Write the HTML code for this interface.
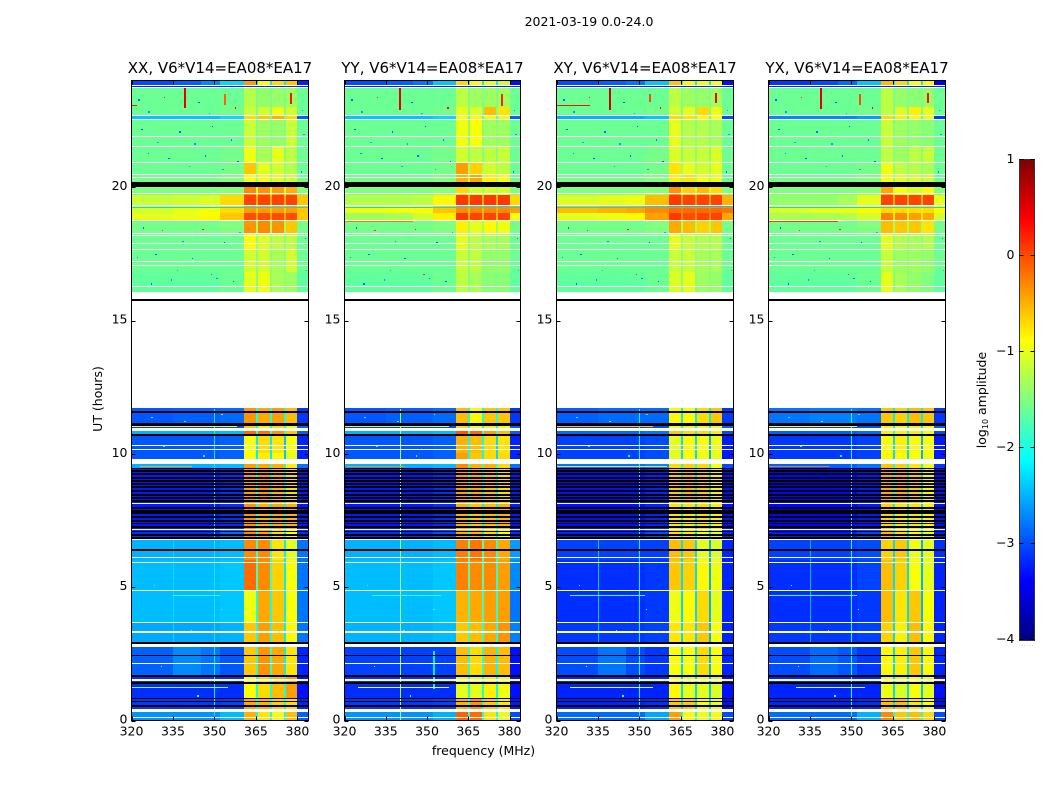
<!DOCTYPE html>
<html>
<head>
<meta charset="utf-8">
<title>2021-03-19 0.0-24.0</title>
<style>
html,body{margin:0;padding:0;background:#fff;}
svg{display:block;}
text{font-family:"DejaVu Sans","Liberation Sans",sans-serif;fill:#000;}
</style>
</head>
<body>
<svg id="chart" xmlns="http://www.w3.org/2000/svg" width="1050" height="800" viewBox="0 0 1050 800">
<rect x="0" y="0" width="1050" height="800" fill="#fff"/>
<text x="589" y="26" font-size="12.5" text-anchor="middle">2021-03-19 0.0-24.0</text>
<text x="102" y="399" font-size="12.5" text-anchor="middle" transform="rotate(-90 102 399)">UT (hours)</text>
<text x="483.5" y="755" font-size="12.5" text-anchor="middle">frequency (MHz)</text>
<text x="986" y="400" font-size="12.5" text-anchor="middle" transform="rotate(-90 986 400)">log<tspan font-size="8" dy="2">10</tspan><tspan dy="-2"> amplitude</tspan></text>
<g id="panels"></g>
<g id="colorbar"></g>
<text x="1026.5" y="646" font-size="5" text-anchor="middle" style="fill:#888" letter-spacing="1">......</text>
</svg>
<script>
// ---------- Chart data ----------
const panelTitles = ["XX, V6*V14=EA08*EA17", "YY, V6*V14=EA08*EA17", "XY, V6*V14=EA08*EA17", "YX, V6*V14=EA08*EA17"];
const freqTicks = [320, 335, 350, 365, 380];
const timeTicks = [0, 5, 10, 15, 20];
const colorbarTicks = [1, 0, -1, -2, -3, -4];
const colorbarTickLabels = ["1", "0", "\u22121", "\u22122", "\u22123", "\u22124"];

// Frequency channel groups (MHz)
const freqEdges = [320, 335, 345, 352, 360.5, 365, 365.7, 370, 370.7, 375, 375.7, 380, 384];
// Time blocks (UT hours), top of plot downward
const timeEdges = [24, 23.79, 23, 22.7, 22.54, 21.54, 20.94, 20.5, 20, 19.7, 19.33, 19.04, 18.74, 18.28, 17.65, 16.82, 16.08, 11.72, 11.12, 10.86, 10.71, 10.03, 9.62, 9.47, 8.16, 7.19, 6.79, 6.02, 4.89, 3.69, 2.91, 1.67, 0.81, 0.43, 0];

// log10 amplitude per time block / channel group; null = no data
const ampXX = [
[-3.0,-2.9,-2.7,-2.3,-0.4,-2.2,-0.9,-2.2,-0.7,-2.2,-0.6,-3.2],
[-1.6,-1.6,-1.6,-1.6,-1.25,-1.5,-1.4,-1.5,-1.4,-1.5,-1.35,-1.6],
[-1.6,-1.6,-1.6,-1.55,-1.15,-1.5,-1.1,-1.5,-0.95,-1.5,-1.1,-1.6],
[-2.4,-2.4,-2.4,-2.3,-0.7,-1.6,-0.6,-1.6,-0.5,-1.6,-0.7,-2.9],
[-1.6,-1.6,-1.6,-1.6,-1.15,-1.5,-1.35,-1.5,-1.4,-1.5,-1.15,-1.6],
[-1.6,-1.6,-1.6,-1.55,-0.95,-1.45,-1.3,-1.45,-1.0,-1.45,-1.2,-1.6],
[-1.6,-1.6,-1.6,-1.55,-0.6,-1.4,-1.0,-1.4,-1.1,-1.4,-1.25,-1.6],
[-1.55,-1.55,-1.55,-1.5,-0.9,-1.4,-0.9,-1.4,-1.0,-1.4,-1.1,-1.6],
[-1.5,-1.5,-1.5,-1.45,-0.3,-1.1,-0.35,-1.1,-0.4,-1.1,-0.5,-1.5],
[-1.15,-1.1,-1.05,-0.7,0.05,-0.5,0.05,-0.5,0.05,-0.5,0.05,-0.6],
[-1.1,-1.0,-0.95,-0.7,-0.4,-0.6,-0.4,-0.6,-0.4,-0.6,-0.4,-0.6],
[-1.0,-0.95,-0.85,-0.6,0.0,-0.4,0.0,-0.4,0.0,-0.4,0.0,-0.6],
[-1.55,-1.55,-1.55,-1.5,-0.35,-1.3,-0.3,-1.3,-0.35,-1.3,-0.6,-1.55],
[-1.6,-1.6,-1.6,-1.6,-0.85,-1.4,-1.05,-1.4,-1.2,-1.4,-1.2,-1.6],
[-1.6,-1.6,-1.6,-1.6,-1.1,-1.45,-1.1,-1.45,-1.3,-1.45,-1.1,-1.6],
[-1.65,-1.65,-1.65,-1.6,-1.0,-1.45,-0.95,-1.45,-1.3,-1.45,-1.35,-1.65],
[null,null,null,null,null,null,null,null,null,null,null,null],
[-2.95,-2.9,-2.9,-2.85,-0.35,-2.0,-0.45,-2.0,-0.4,-2.0,-0.55,-3.1],
[-3.1,-3.1,-3.1,-3.0,-0.6,-2.1,-0.8,-2.1,-0.7,-2.1,-1.0,-2.9],
[-2.5,-2.5,-2.5,-2.45,-0.15,-1.9,-0.2,-1.9,-0.35,-1.9,-0.6,-2.9],
[-2.95,-2.95,-2.95,-2.9,-0.9,-2.2,-0.7,-2.2,-0.75,-2.4,-0.9,-3.2],
[-2.95,-2.95,-2.95,-2.9,-0.9,-2.2,-0.8,-2.2,-0.85,-2.4,-1.0,-3.2],
[-2.5,-2.5,-2.5,-2.45,-0.4,-2.0,-0.45,-2.0,-0.5,-2.0,-0.8,-2.8],
[-3.25,-3.25,-3.25,-3.15,-0.4,-2.0,-0.35,-2.2,-0.5,-2.2,-0.7,-3.25],
[-3.25,-3.25,-3.25,-3.15,-0.35,-2.0,-0.5,-2.2,-0.45,-2.2,-0.5,-3.25],
[-3.15,-3.15,-3.15,-2.85,-0.3,-2.0,-0.4,-2.2,-0.7,-2.2,-0.9,-3.15],
[-2.5,-2.5,-2.5,-2.45,-0.3,-1.8,-0.3,-1.8,-0.75,-2.2,-1.0,-2.8],
[-2.45,-2.45,-2.45,-2.4,-0.15,-1.8,-0.3,-1.8,-0.65,-2.2,-0.9,-2.8],
[-2.45,-2.45,-2.45,-2.4,-0.95,-2.0,-0.45,-2.0,-0.6,-2.2,-0.9,-2.8],
[-2.55,-2.55,-2.55,-2.5,-0.6,-2.0,-0.4,-2.0,-0.55,-2.2,-0.85,-2.8],
[-2.9,-2.7,-2.8,-2.95,-0.6,-1.9,-0.35,-1.9,-0.45,-2.2,-0.75,-3.2],
[-3.15,-3.15,-3.15,-3.15,-0.9,-2.0,-0.7,-2.0,-0.55,-2.0,-0.4,-3.3],
[-3.1,-3.1,-3.1,-3.05,-0.45,-2.0,-0.5,-2.0,-0.65,-2.0,-0.7,-3.2],
[-2.65,-2.65,-2.65,-2.45,-0.5,-2.0,-0.75,-2.0,-0.85,-2.0,-0.55,-2.9]
];
const ampYY = [
[-3.0,-2.9,-2.8,-2.4,-0.7,-2.2,-0.9,-2.2,-1.0,-2.2,-1.1,-3.3],
[-1.6,-1.6,-1.6,-1.6,-1.2,-1.5,-1.35,-1.5,-1.35,-1.5,-1.35,-1.6],
[-1.6,-1.6,-1.6,-1.55,-1.0,-1.5,-1.05,-1.5,-0.55,-1.5,-0.75,-1.6],
[-2.4,-2.4,-2.4,-2.3,-0.9,-1.7,-0.85,-1.7,-1.0,-1.7,-1.0,-2.9],
[-1.6,-1.6,-1.6,-1.6,-0.95,-1.45,-0.9,-1.45,-1.35,-1.45,-1.35,-1.6],
[-1.6,-1.6,-1.6,-1.55,-1.1,-1.45,-1.2,-1.45,-1.2,-1.45,-1.15,-1.6],
[-1.6,-1.6,-1.6,-1.55,-0.4,-1.3,-0.65,-1.3,-1.1,-1.3,-1.2,-1.6],
[-1.55,-1.55,-1.55,-1.5,-0.5,-1.2,-0.45,-1.2,-0.8,-1.2,-0.9,-1.6],
[-1.5,-1.5,-1.5,-1.45,-0.7,-1.3,-1.1,-1.3,-1.1,-1.3,-1.1,-1.5],
[-1.25,-1.25,-1.2,-0.85,0.1,-0.5,0.1,-0.5,0.1,-0.5,0.1,-0.7],
[-0.95,-0.9,-0.85,-0.6,-0.3,-0.5,-0.3,-0.5,-0.3,-0.5,-0.3,-0.4],
[-1.35,-1.3,-1.1,-0.8,0.1,-0.5,0.05,-0.5,0.05,-0.5,0.05,-0.9],
[-1.55,-1.55,-1.55,-1.5,-0.8,-1.35,-1.0,-1.35,-0.85,-1.35,-0.95,-1.55],
[-1.6,-1.6,-1.6,-1.6,-1.0,-1.45,-1.2,-1.45,-1.3,-1.45,-1.3,-1.6],
[-1.6,-1.6,-1.6,-1.6,-1.15,-1.45,-1.2,-1.45,-1.4,-1.45,-1.4,-1.6],
[-1.65,-1.65,-1.65,-1.6,-1.2,-1.5,-1.3,-1.5,-1.45,-1.5,-1.45,-1.65],
[null,null,null,null,null,null,null,null,null,null,null,null],
[-2.95,-2.9,-2.9,-2.85,-0.55,-2.0,-0.85,-2.0,-0.6,-2.0,-0.6,-3.1],
[-3.1,-3.1,-3.1,-3.0,-0.7,-2.1,-0.9,-2.1,-0.8,-2.1,-0.9,-2.9],
[-2.5,-2.5,-2.5,-2.45,-0.05,-1.9,-0.15,-1.9,-0.4,-1.9,-0.55,-2.9],
[-2.95,-2.95,-2.95,-2.9,-0.5,-2.1,-0.55,-2.1,-0.7,-2.3,-0.75,-3.2],
[-2.95,-2.95,-2.95,-2.9,-0.4,-2.1,-0.6,-2.1,-0.7,-2.3,-0.7,-3.2],
[-2.5,-2.5,-2.5,-2.45,-0.3,-1.9,-0.5,-1.9,-0.5,-1.9,-0.7,-2.8],
[-3.25,-3.25,-3.25,-3.15,-0.4,-2.0,-0.45,-2.2,-0.55,-2.2,-0.7,-3.25],
[-3.25,-3.25,-3.25,-3.15,-0.5,-2.0,-0.6,-2.2,-0.55,-2.2,-0.5,-3.25],
[-3.15,-3.15,-3.15,-3.0,-0.45,-2.0,-0.5,-2.2,-0.7,-2.2,-0.9,-3.15],
[-2.5,-2.5,-2.5,-2.45,-0.25,-1.7,-0.2,-1.7,-0.3,-1.9,-0.45,-2.6],
[-2.45,-2.45,-2.45,-2.4,-0.25,-1.7,-0.3,-1.7,-0.3,-1.9,-0.4,-2.7],
[-2.45,-2.45,-2.45,-2.4,-0.5,-1.8,-0.45,-1.8,-0.4,-1.9,-0.4,-2.8],
[-2.5,-2.5,-2.5,-2.45,-0.6,-1.9,-0.55,-1.9,-0.45,-2.0,-0.35,-2.75],
[-3.05,-3.05,-3.05,-3.05,-0.55,-1.9,-0.7,-1.9,-0.5,-2.1,-0.55,-3.3],
[-3.15,-3.15,-3.15,-3.15,-1.0,-2.0,-1.0,-2.0,-0.8,-2.1,-0.95,-3.3],
[-3.1,-3.1,-3.1,-3.05,-0.5,-2.0,-0.35,-2.0,-0.6,-2.0,-0.75,-3.25],
[-2.65,-2.65,-2.65,-2.5,-0.1,-2.0,-0.15,-2.0,-0.75,-2.0,-1.0,-3.0]
];
const ampXY = [
[-3.0,-2.9,-2.8,-2.4,-0.6,-2.2,-0.85,-2.2,-0.95,-2.2,-0.95,-3.3],
[-1.6,-1.6,-1.6,-1.6,-1.2,-1.5,-1.35,-1.5,-1.4,-1.5,-1.35,-1.6],
[-1.6,-1.6,-1.6,-1.55,-1.1,-1.5,-1.0,-1.5,-0.7,-1.5,-0.95,-1.6],
[-2.5,-2.5,-2.5,-2.4,-0.7,-1.6,-0.75,-1.6,-0.85,-1.6,-0.9,-3.0],
[-1.6,-1.6,-1.6,-1.6,-1.0,-1.45,-1.25,-1.45,-1.25,-1.45,-1.3,-1.6],
[-1.6,-1.6,-1.6,-1.55,-1.05,-1.45,-1.15,-1.45,-1.15,-1.45,-1.05,-1.6],
[-1.6,-1.6,-1.6,-1.55,-0.75,-1.35,-1.0,-1.35,-1.1,-1.35,-1.0,-1.6],
[-1.55,-1.55,-1.55,-1.5,-0.8,-1.3,-0.75,-1.3,-0.9,-1.3,-0.95,-1.6],
[-1.5,-1.5,-1.5,-1.45,-0.35,-1.1,-0.65,-1.1,-0.55,-1.1,-0.7,-1.5],
[-1.05,-1.0,-0.95,-0.55,0.1,-0.4,0.05,-0.4,0.05,-0.4,0.05,-0.5],
[-0.55,-0.5,-0.45,-0.3,-0.15,-0.25,-0.15,-0.25,-0.15,-0.25,-0.15,-0.2],
[-1.0,-0.95,-0.85,-0.4,0.1,-0.3,0.0,-0.3,0.05,-0.3,0.05,-0.45],
[-1.55,-1.55,-1.55,-1.5,-0.45,-1.3,-0.55,-1.3,-0.65,-1.3,-0.6,-1.55],
[-1.6,-1.6,-1.6,-1.6,-1.0,-1.4,-1.15,-1.4,-1.25,-1.4,-1.25,-1.6],
[-1.6,-1.6,-1.6,-1.6,-1.15,-1.45,-1.15,-1.45,-1.3,-1.45,-1.3,-1.6],
[-1.65,-1.65,-1.65,-1.6,-1.05,-1.45,-1.0,-1.45,-1.35,-1.45,-1.4,-1.65],
[null,null,null,null,null,null,null,null,null,null,null,null],
[-2.9,-2.85,-2.85,-2.85,-0.85,-2.2,-0.85,-2.2,-0.7,-2.2,-0.6,-3.1],
[-3.1,-3.1,-3.1,-3.0,-0.9,-2.2,-1.0,-2.2,-0.85,-2.2,-0.95,-2.9],
[-2.85,-2.85,-2.85,-2.8,-0.6,-2.0,-0.7,-2.0,-0.7,-2.0,-0.8,-3.0],
[-3.05,-3.05,-3.05,-3.0,-1.0,-2.3,-0.85,-2.3,-0.9,-2.5,-0.95,-3.25],
[-3.05,-3.05,-3.05,-3.0,-1.0,-2.3,-0.9,-2.3,-0.95,-2.5,-1.0,-3.25],
[-2.8,-2.8,-2.8,-2.7,-0.7,-2.1,-0.65,-2.1,-0.7,-2.1,-0.9,-3.0],
[-3.3,-3.3,-3.3,-3.2,-0.6,-2.2,-0.5,-2.3,-0.6,-2.3,-0.8,-3.3],
[-3.3,-3.3,-3.3,-3.2,-0.75,-2.2,-0.75,-2.3,-0.7,-2.3,-0.8,-3.3],
[-3.2,-3.2,-3.2,-3.0,-0.7,-2.2,-0.75,-2.3,-0.9,-2.3,-1.0,-3.2],
[-3.05,-3.05,-3.05,-3.05,-0.55,-2.3,-0.6,-2.3,-1.0,-2.5,-1.05,-3.2],
[-3.15,-3.15,-3.15,-3.1,-0.6,-2.3,-0.65,-2.3,-0.85,-2.5,-0.95,-3.2],
[-3.15,-3.15,-3.15,-3.1,-0.95,-2.3,-0.85,-2.3,-0.7,-2.5,-1.0,-3.2],
[-3.1,-3.1,-3.1,-3.05,-0.75,-2.3,-0.75,-2.3,-0.6,-2.5,-0.9,-3.2],
[-3.0,-2.8,-3.0,-3.1,-0.9,-2.3,-0.9,-2.3,-0.7,-2.5,-0.9,-3.2],
[-3.2,-3.2,-3.2,-3.2,-0.85,-2.3,-1.0,-2.3,-1.0,-2.4,-1.05,-3.3],
[-3.2,-3.2,-3.2,-3.15,-0.6,-2.3,-0.6,-2.3,-0.85,-2.3,-0.95,-3.3],
[-2.85,-2.85,-2.85,-2.55,-0.4,-2.0,-0.85,-2.0,-0.95,-2.0,-0.85,-3.0]
];
const ampYX = [
[-3.1,-3.0,-2.85,-2.4,-0.55,-2.2,-0.7,-2.2,-0.9,-2.2,-0.85,-3.4],
[-1.6,-1.6,-1.6,-1.6,-1.2,-1.5,-1.4,-1.5,-1.45,-1.5,-1.4,-1.6],
[-1.6,-1.6,-1.6,-1.55,-1.2,-1.5,-1.05,-1.5,-0.8,-1.5,-1.0,-1.6],
[-2.7,-2.7,-2.7,-2.6,-0.7,-1.7,-0.8,-1.7,-0.95,-1.7,-1.0,-3.1],
[-1.6,-1.6,-1.6,-1.6,-1.15,-1.5,-1.35,-1.5,-1.4,-1.5,-1.45,-1.6],
[-1.6,-1.6,-1.6,-1.6,-1.2,-1.45,-1.35,-1.45,-1.2,-1.45,-1.15,-1.6],
[-1.6,-1.6,-1.6,-1.55,-0.95,-1.4,-1.2,-1.4,-1.25,-1.4,-1.3,-1.6],
[-1.55,-1.55,-1.55,-1.5,-0.9,-1.4,-1.0,-1.4,-1.05,-1.4,-1.1,-1.6],
[-1.5,-1.5,-1.5,-1.45,-0.45,-1.1,-0.9,-1.1,-1.05,-1.1,-0.85,-1.5],
[-1.4,-1.4,-1.3,-1.0,0.05,-0.5,0.05,-0.5,0.05,-0.5,0.05,-1.0],
[-1.05,-1.0,-1.0,-0.85,-0.7,-0.8,-0.7,-0.8,-0.7,-0.8,-0.7,-0.85],
[-1.3,-1.3,-1.25,-1.1,-0.25,-0.8,-0.3,-0.8,-0.4,-0.8,-0.45,-1.1],
[-1.55,-1.55,-1.55,-1.5,-0.55,-1.3,-0.6,-1.3,-0.6,-1.3,-0.75,-1.55],
[-1.6,-1.6,-1.6,-1.6,-1.0,-1.4,-1.25,-1.4,-1.3,-1.4,-1.25,-1.6],
[-1.6,-1.6,-1.6,-1.6,-1.15,-1.45,-1.35,-1.45,-1.35,-1.45,-1.4,-1.6],
[-1.65,-1.65,-1.65,-1.6,-1.0,-1.5,-1.3,-1.5,-1.4,-1.5,-1.5,-1.65],
[null,null,null,null,null,null,null,null,null,null,null,null],
[-2.8,-2.75,-2.75,-2.8,-0.6,-2.2,-0.65,-2.2,-0.55,-2.2,-0.6,-3.1],
[-3.1,-3.1,-3.1,-3.0,-0.8,-2.2,-0.9,-2.2,-0.8,-2.2,-0.85,-2.9],
[-2.9,-2.9,-2.9,-2.85,-0.8,-2.1,-0.8,-2.1,-0.8,-2.1,-0.85,-3.0],
[-3.1,-3.1,-3.1,-3.05,-0.9,-2.3,-0.8,-2.3,-0.85,-2.5,-0.9,-3.25],
[-3.1,-3.1,-3.1,-3.05,-0.85,-2.3,-0.85,-2.3,-0.9,-2.5,-0.95,-3.25],
[-2.9,-2.9,-2.9,-2.8,-0.6,-2.1,-0.65,-2.1,-0.75,-2.1,-0.95,-3.1],
[-3.35,-3.35,-3.35,-3.25,-0.45,-2.2,-0.45,-2.3,-0.6,-2.3,-0.8,-3.3],
[-3.35,-3.35,-3.35,-3.25,-0.65,-2.2,-0.75,-2.3,-0.75,-2.3,-0.8,-3.3],
[-3.25,-3.25,-3.25,-3.05,-0.5,-2.2,-0.7,-2.3,-0.85,-2.3,-1.0,-3.25],
[-3.05,-3.05,-3.05,-3.0,-0.65,-2.3,-0.6,-2.3,-0.95,-2.5,-1.0,-3.15],
[-3.15,-3.15,-3.15,-3.05,-0.55,-2.3,-0.65,-2.3,-0.9,-2.5,-1.0,-3.2],
[-3.15,-3.15,-3.15,-3.1,-0.55,-2.3,-0.75,-2.3,-0.6,-2.5,-0.9,-3.2],
[-3.1,-3.1,-3.1,-3.05,-0.65,-2.3,-0.8,-2.3,-0.55,-2.5,-0.85,-3.2],
[-3.0,-2.85,-2.95,-3.1,-0.85,-2.3,-0.8,-2.3,-0.6,-2.5,-0.85,-3.2],
[-3.2,-3.2,-3.2,-3.2,-0.95,-2.3,-1.05,-2.3,-0.9,-2.4,-1.0,-3.3],
[-3.2,-3.2,-3.2,-3.15,-0.55,-2.3,-0.55,-2.3,-0.75,-2.3,-0.9,-3.3],
[-2.85,-2.85,-2.85,-2.5,-0.3,-2.0,-0.6,-2.0,-0.55,-2.0,-0.7,-3.0]
];
const panelAmps = [ampXX, ampYY, ampXY, ampYX];

// Flagged (blank) time ranges, UT hours [low, high]
const blankRanges = [[15.73, 11.72], [16.08, 15.79], [10.97, 10.86], [9.79, 9.62], [3.37, 3.30], [2.87, 2.76], [1.56, 1.48], [0.42, 0.32]];
// Single integrations left blank, UT hours
const blankLines = [23.83, 23.74, 22.69, 22.54, 21.90, 21.52, 20.94, 20.46, 20.36, 19.76, 19.31, 18.75, 18.26, 18.19, 17.89, 17.66, 17.23, 17.08, 16.27, 10.33, 10.18, 8.12, 7.18, 6.77, 6.13, 5.91, 4.89, 3.69, 2.12, 0.11];
// Integrations drawn black, UT hours
const blackLines = [11.58, 11.13, 11.09, 10.70, 9.45, 9.36, 9.24, 9.09, 8.98, 8.87, 8.76, 8.61, 8.46, 8.35, 8.23, 7.97, 7.86, 7.78, 7.63, 7.49, 7.39, 7.26, 7.09, 6.96, 6.84, 6.39, 2.91, 2.44, 1.66, 1.40, 0.82, 0.71, 0.55];
// Thick black ranges, UT hours [low, high]
const blackRanges = [[20.0, 20.19], [15.73, 15.79]];
// Low-amplitude integrations: [hour, log10 amplitude]
const lowLines = [[23.79, -3.2], [20.40, -3.4], [19.35, -3.4], [19.27, -2.3], [18.22, -3.4]];
// Narrow-band interference per panel: [MHz, hour low, hour high, log10 amplitude]
const spikesXX = [[338.9, 22.98, 23.72, 0.5], [377.2, 23.12, 23.53, 0.3], [353.3, 23.1, 23.5, -0.1], [350, 0, 11.7, -2.2], [335, 2.9, 6.8, -2.3]];
const spikesYY = [[339.8, 22.9, 23.75, 0.5], [376.8, 23.05, 23.5, 0.2], [340, 0, 11.7, -1.3], [352, 1.2, 2.6, -2.2]];
const spikesXY = [[338.9, 22.9, 23.72, 0.6], [377.4, 23.15, 23.55, 0.4], [353.6, 23.2, 23.5, 0.0], [350, 0, 11.7, -2.1], [335, 2.9, 6.8, -2.4]];
const spikesYX = [[338.8, 22.95, 23.72, 0.5], [377.2, 23.15, 23.55, 0.3], [352.9, 23.1, 23.5, 0.0], [350, 0, 11.7, -2.0], [335, 2.9, 6.8, -2.5]];
const panelSpikes = [spikesXX, spikesYY, spikesXY, spikesYX];
// Broad-band time interference per panel: [hour, MHz low, MHz high, log10 amplitude]
const rfiXX = [[11.04, 320, 358, -1.0], [9.54, 323, 342, -0.45], [4.69, 335, 352, -1.9], [1.24, 320, 355, -1.4], [23.08, 320, 322, 0.3]];
const rfiYY = [[11.04, 320, 358, -1.1], [9.54, 321, 342, -0.3], [4.69, 330, 355, -1.9], [1.24, 325, 358, -0.9], [18.74, 320, 345, -0.2]];
const rfiXY = [[11.04, 320, 355, -0.6], [9.54, 320, 360, -0.7], [4.69, 325, 352, -1.8], [1.24, 325, 355, -1.0], [23.08, 320, 332, 0.3]];
const rfiYX = [[11.04, 320, 352, -0.9], [9.54, 320, 342, -0.2], [4.69, 320, 352, -1.8], [1.24, 330, 355, -1.0], [18.74, 320, 345, 0.1]];
const panelRfi = [rfiXX, rfiYY, rfiXY, rfiYX];
// Isolated outlier pixels: [MHz, hour, log10 amplitude]
const outliers = [
[322.4,23.3,-2.8],[326.1,22.85,-2.6],[331.7,23.4,0.2],[344.2,23.2,-2.9],[347.9,22.8,-2.5],[357.3,23.0,0.3],[381.6,22.9,-2.6],
[323.5,22.2,-2.9],[329.4,21.7,-2.5],[337.2,22.1,-2.8],[342.6,21.65,-2.6],[349.1,22.3,-2.9],[355.8,21.8,-2.7],[382.1,22.0,-2.6],
[325.8,21.3,-2.7],[333.3,21.1,-2.9],[340.7,20.8,-2.5],[346.4,21.2,-2.8],[352.9,20.7,-2.6],[358.2,21.0,-2.9],[381.2,20.6,-2.7],
[324.1,18.5,-2.8],[330.9,18.4,0.1],[338.3,18.0,-2.6],[345.5,18.45,0.2],[353.4,17.95,-2.9],[359.0,18.3,-2.5],[382.6,18.1,-2.8],
[321.9,17.4,-2.6],[328.6,17.5,-2.9],[336.4,16.9,-2.5],[341.8,17.35,-2.8],[350.6,16.6,-2.7],[356.7,16.5,-2.9],[383.0,16.9,-2.5],
[326.9,16.4,-2.8],[334.2,16.55,-2.6],[343.3,16.3,-2.9],[348.7,16.75,0.1],[327.2,11.4,-1.9],[339.1,11.25,-1.8],[352.4,11.5,-1.9],
[331.5,10.3,-1.9],[345.9,9.95,-2.0],[330.6,2.05,-1.6],[343.8,0.95,-1.7],[328.0,5.1,-1.8],[352.2,4.2,-1.9],[341.4,3.4,-1.8]
];

// ---------- Axes ----------
const frameLeft = [131.5, 344.5, 556.5, 768.5];
const frameRight = [308.5, 520.5, 733.5, 945.5];
const frameTop = 80.5;
const frameBottom = 720.5;
const freqMin = 320;
const freqMax = 384;
const timeMin = 0;
const timeMax = 24;
const ampMin = -4;
const ampMax = 1;
const cbarLeft = 1019.5;
const cbarRight = 1034.5;
const cbarTop = 160;
const cbarBottom = 640;

const NS = 'http://www.w3.org/2000/svg';
function make(tag, attrs, parent) {
  const el = document.createElementNS(NS, tag);
  for (const k in attrs) el.setAttribute(k, attrs[k]);
  parent.appendChild(el);
  return el;
}
function xScale(p, f) {
  return frameLeft[p] + (f - freqMin) / (freqMax - freqMin) * (frameRight[p] - frameLeft[p]);
}
function yScale(h) {
  return frameBottom - (h - timeMin) / (timeMax - timeMin) * (frameBottom - frameTop);
}
function cbarScale(v) {
  return cbarBottom - (v - ampMin) / (ampMax - ampMin) * (cbarBottom - cbarTop);
}
function jetPart(t, c) {
  return Math.max(0, Math.min(1, 1.5 - Math.abs(4 * t - c)));
}
function jet(v) {
  const t = Math.max(0, Math.min(1, (v - ampMin) / (ampMax - ampMin)));
  const r = Math.round(255 * jetPart(t, 3));
  const g = Math.round(255 * jetPart(t, 2));
  const b = Math.round(255 * jetPart(t, 1));
  return 'rgb(' + r + ',' + g + ',' + b + ')';
}
function bar(parent, x0, x1, y0, y1, fill) {
  const l = Math.round(x0);
  const t = Math.round(y0);
  const w = Math.max(1, Math.round(x1) - l);
  const h = Math.max(1, Math.round(y1) - t);
  return make('rect', {x: l, y: t, width: w, height: h, fill: fill, 'shape-rendering': 'crispEdges'}, parent);
}

const panelsRoot = document.getElementById('panels');
panelTitles.forEach(function (title, p) {
  const g = make('g', {}, panelsRoot);
  
  
  const xa = frameLeft[p] - 0.5;
  const xb = frameRight[p] + 0.5;

  // heatmap blocks
  panelAmps[p].forEach(function (row, r) {
    row.forEach(function (value, c) {
      if (value === null) return;
      const cell = bar(g, xScale(p, freqEdges[c]), xScale(p, freqEdges[c + 1]), yScale(timeEdges[r]), yScale(timeEdges[r + 1]), jet(value));
      
      
    });
  });
  // outlier pixels
  outliers.forEach(function (o) {
    const px = bar(g, xScale(p, o[0]), xScale(p, o[0]) + 1.5, yScale(o[1]), yScale(o[1]) + 1.5, jet(o[2]));
    
    
  });
  // narrow-band interference
  panelSpikes[p].forEach(function (s) {
    const x = Math.round(xScale(p, s[0]));
    const w = s[2] - s[1] > 1.5 ? 1 : 2;
    const m = bar(g, x, x + w, yScale(s[2]), yScale(s[1]), jet(s[3]));
    
    
  });
  // broad-band interference
  panelRfi[p].forEach(function (s) {
    const y = yScale(s[0]);
    const m = bar(g, xScale(p, s[1]), xScale(p, s[2]), y, y + 1, jet(s[3]));
    
    
  });
  // low-amplitude integrations
  lowLines.forEach(function (s) {
    const y = yScale(s[0]);
    const m = bar(g, xa, xb, y, y + 1, jet(s[1]));
    
    
  });
  // black integrations
  blackLines.forEach(function (h) {
    const m = bar(g, xa, xb, yScale(h + 0.03), yScale(h - 0.03), '#000');
    
    
  });
  blackRanges.forEach(function (s) {
    const m = bar(g, xa, xb, yScale(s[1]), yScale(s[0]), '#000');
    
    
  });
  // blanks
  blankLines.forEach(function (h) {
    const y = yScale(h);
    const m = bar(g, xa, xb, y - 0.5, y + 0.5, '#fff');
    
    
  });
  blankRanges.forEach(function (s) {
    const m = bar(g, xa, xb, yScale(Math.max(s[0], s[1])), yScale(Math.min(s[0], s[1])), '#fff');
    
    
  });

  // frame
  const frame = make('rect', {x: frameLeft[p], y: frameTop, width: frameRight[p] - frameLeft[p], height: frameBottom - frameTop, fill: 'none', stroke: '#000', 'stroke-width': 1, 'shape-rendering': 'crispEdges'}, g);
  
  

  // x ticks
  freqTicks.forEach(function (f) {
    const x = Math.round(xScale(p, f)) + 0.5;
    const t1 = make('line', {x1: x, x2: x, y1: frameBottom, y2: frameBottom - 4, stroke: '#000', 'shape-rendering': 'crispEdges'}, g);
    
    
    const t2 = make('line', {x1: x, x2: x, y1: frameTop, y2: frameTop + 4, stroke: '#000', 'shape-rendering': 'crispEdges'}, g);
    
    
    const lab = make('text', {x: xScale(p, f), y: 735.5, 'font-size': 12.5, 'text-anchor': 'middle'}, g);
    lab.textContent = String(f);
    
    
  });
  // y ticks
  timeTicks.forEach(function (h) {
    const y = Math.round(yScale(h)) + 0.5;
    const t1 = make('line', {x1: frameLeft[p], x2: frameLeft[p] + 4, y1: y, y2: y, stroke: '#000', 'shape-rendering': 'crispEdges'}, g);
    
    
    const t2 = make('line', {x1: frameRight[p], x2: frameRight[p] - 4, y1: y, y2: y, stroke: '#000', 'shape-rendering': 'crispEdges'}, g);
    
    
    const lab = make('text', {x: frameLeft[p] - 4, y: yScale(h) + 3, 'font-size': 12.5, 'text-anchor': 'end'}, g);
    lab.textContent = String(h);
    
    
  });
  // title
  const tt = make('text', {x: (frameLeft[p] + frameRight[p]) / 2, y: 73, 'font-size': 15, 'text-anchor': 'middle'}, g);
  tt.textContent = title;
  
  
});

// ---------- Colorbar ----------
const cbarRoot = document.getElementById('colorbar');
for (let y = cbarTop; y < cbarBottom; y += 2) {
  const v = ampMax - (y + 1 - cbarTop) / (cbarBottom - cbarTop) * (ampMax - ampMin);
  const seg = make('rect', {x: cbarLeft, y: y, width: cbarRight - cbarLeft, height: 2, fill: jet(v), 'shape-rendering': 'crispEdges'}, cbarRoot);
  
  
}
const cbarFrame = make('rect', {x: cbarLeft, y: cbarTop - 0.5, width: cbarRight - cbarLeft, height: cbarBottom - cbarTop + 1, fill: 'none', stroke: '#333', 'stroke-width': 1, 'shape-rendering': 'crispEdges'}, cbarRoot);


colorbarTicks.forEach(function (v, i) {
  const y = Math.round(cbarScale(v)) - 0.5;
  const t1 = make('line', {x1: cbarLeft, x2: cbarLeft + 4, y1: y, y2: y, stroke: '#000', 'shape-rendering': 'crispEdges'}, cbarRoot);
  
  
  const t2 = make('line', {x1: cbarRight, x2: cbarRight - 4, y1: y, y2: y, stroke: '#000', 'shape-rendering': 'crispEdges'}, cbarRoot);
  
  
  const lab = make('text', {x: cbarLeft - 5, y: cbarScale(v) + 3, 'font-size': 12.5, 'text-anchor': 'end'}, cbarRoot);
  lab.textContent = colorbarTickLabels[i];
  
  
});
</script>
</body>
</html>
